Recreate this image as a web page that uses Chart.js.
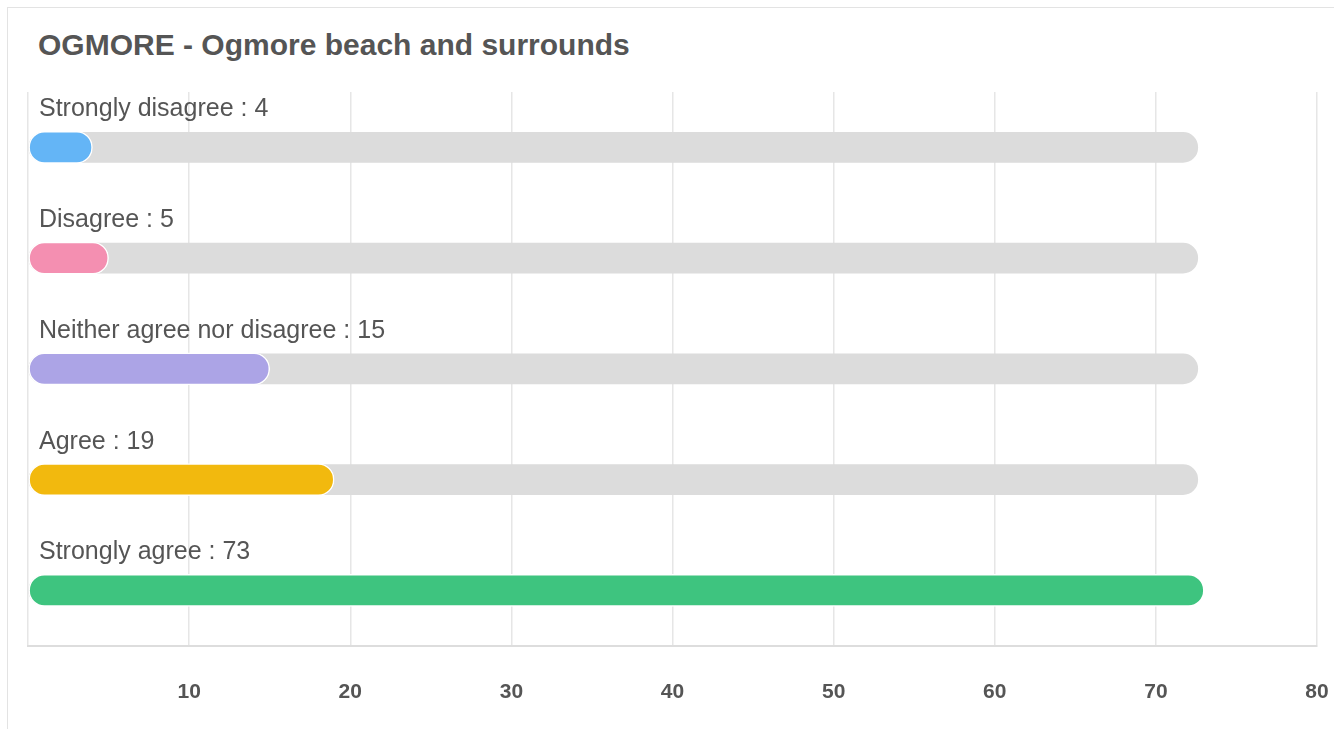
<!DOCTYPE html>
<html>
<head>
<meta charset="utf-8">
<script src="https://cdn.jsdelivr.net/npm/chart.js@4"></script>
<style>
  html, body { margin: 0; padding: 0; background: #fff; overflow: hidden; }
  #card {
    position: absolute; left: 7px; top: 7px; width: 1400px; height: 800px;
    border: 1px solid #e3e3e3; box-sizing: border-box;
  }
  #title {
    position: absolute; left: 38px; top: 28px;
    font: bold 30px "Liberation Sans", Arial, sans-serif; color: #555;
  }
  #wrap { position: absolute; left: 0; top: 0; width: 1334px; height: 729px; }
</style>
</head>
<body>
<div id="card"></div>
<div id="title">OGMORE - Ogmore beach and surrounds</div>
<div id="wrap"><canvas id="chart"></canvas></div>
<script>
// Data
const categories = ['Strongly disagree', 'Disagree', 'Neither agree nor disagree', 'Agree', 'Strongly agree'];
const responses = [4, 5, 15, 19, 73];
const trackValues = [72.6, 72.6, 72.6, 72.6, 72.6];
const barColors = ['#64b5f6', '#f48fb1', '#aca4e6', '#f2b90e', '#3ec47f'];
const xTicks = [10, 20, 30, 40, 50, 60, 70, 80];

// Draw "Label : value" above each bar
const barLabels = {
    id: 'barLabels',
    afterDatasetsDraw(chart) {
        const ctx = chart.ctx;
        const meta = chart.getDatasetMeta(1);
        ctx.save();
        ctx.font = '25px "Liberation Sans", Arial, sans-serif';
        ctx.fillStyle = '#555';
        ctx.textBaseline = 'middle';
        meta.data.forEach((bar, i) => {
            ctx.fillText(categories[i] + ' : ' + responses[i], chart.chartArea.left + 11, bar.y - 38);
        });
        ctx.restore();
    }
};

const ctx = document.getElementById('chart').getContext('2d');
const chart = new Chart(ctx, {
    type: 'bar',
    data: {
        labels: categories,
        datasets: [
            {
                data: trackValues,
                backgroundColor: '#dcdcdc',
                barThickness: 30,
                borderRadius: 15,
                borderSkipped: false,
                order: 2
            },
            {
                data: responses,
                backgroundColor: barColors,
                borderColor: '#fff',
                borderWidth: 1.5,
                barThickness: 32,
                borderRadius: 16,
                borderSkipped: false,
                order: 1
            }
        ]
    },
    options: {
        indexAxis: 'y',
        responsive: true,
        maintainAspectRatio: false,
        animation: false,
        layout: { padding: { left: 28, right: 17, top: 92, bottom: 20 } },
        plugins: {
            legend: { display: false },
            tooltip: { enabled: false }
        },
        scales: {
            x: {
                min: 0,
                max: 80,
                afterBuildTicks: (axis) => { axis.ticks = [0, ...xTicks].map(v => ({ value: v })); },
                ticks: {
                    padding: 4,
                    color: '#555',
                    font: { family: '"Liberation Sans", Arial, sans-serif', size: 21, weight: 'bold' },
                    callback: (v) => v === 0 ? '' : v,
                    maxRotation: 0
                },
                grid: { color: '#e6e6e6', lineWidth: 1.5, drawTicks: true, tickLength: 30, tickColor: 'rgba(0,0,0,0)' },
                border: { color: '#dddddd', width: 2 }
            },
            y: {
                display: false
            }
        },
        datasets: { bar: { grouped: false } }
    },
    plugins: [barLabels]
});
</script>
</body>
</html>
